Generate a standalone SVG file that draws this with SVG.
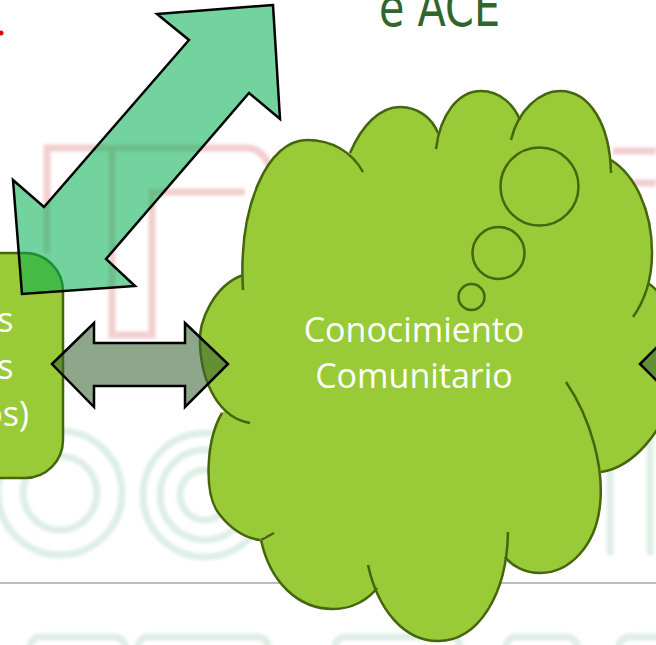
<svg xmlns="http://www.w3.org/2000/svg" width="656" height="645" viewBox="0 0 656 645">
  <defs>
    <filter id="soft" x="-10%" y="-10%" width="120%" height="120%">
      <feGaussianBlur stdDeviation="1.8"/>
    </filter>
    <style>
      .wm-red { fill: none; stroke: #f3cfcf; stroke-width: 7; }
      .wm-green { fill: none; stroke: #deefe6; stroke-width: 7; }
      .lobe-fill { fill: #99cb38; stroke: #99cb38; stroke-width: 1.5; stroke-linejoin: round; }
      .lobe { fill: none; stroke: #46650f; stroke-width: 2.5; stroke-linecap: butt; }
      .bubble { fill: #99cb38; stroke: #46650f; stroke-width: 2.5; }
      .node-box { fill: #99cb38; stroke: #46650f; stroke-width: 2.5; }
      .label { font-family: "Open Sans", "Noto Sans", sans-serif; font-size: 34px; fill: #ffffff; }
      .arrow-h { fill: rgb(60,102,52); fill-opacity: 0.58; stroke: #000; stroke-width: 2.5; stroke-linejoin: miter; }
      .arrow-d { fill: rgb(0,175,80); fill-opacity: 0.55; stroke: #000; stroke-width: 2.5; stroke-linejoin: miter; }
    </style>
  </defs>

  <rect x="0" y="0" width="656" height="645" fill="#ffffff"/>

  <!-- faint watermark -->
  <g id="watermark" filter="url(#soft)">
    <path class="wm-red" d="M47,253 V148 H248 Q268,150 272,178"/>
    <path class="wm-red" d="M112,150 V335 H152 V192 H245"/>
    <path class="wm-red" d="M613,151 H656 M620,183 H656"/>
    <circle class="wm-green" cx="60" cy="493" r="37"/>
    <circle class="wm-green" cx="60" cy="493" r="62"/>
    <circle class="wm-green" cx="205" cy="495" r="25"/>
    <circle class="wm-green" cx="205" cy="495" r="45"/>
    <circle class="wm-green" cx="205" cy="495" r="62"/>
    <path class="wm-green" d="M610,420 V555 M650,420 V555"/>
    <rect class="wm-green" x="30" y="637" width="95" height="30" rx="10"/>
    <rect class="wm-green" x="138" y="637" width="130" height="30" rx="10"/>
    <rect class="wm-green" x="335" y="637" width="125" height="30" rx="10"/>
    <rect class="wm-green" x="506" y="637" width="71" height="30" rx="10"/>
    <rect class="wm-green" x="619" y="637" width="60" height="30" rx="10"/>
  </g>

  <!-- slide separator line -->
  <line x1="0" y1="583" x2="656" y2="583" stroke="#a6a6a6" stroke-width="1.5"/>

  <!-- title fragment -->
  <g id="title">
    <text x="379" y="26" font-family="DejaVu Sans, sans-serif" font-size="54" fill="#32642d" textLength="121" lengthAdjust="spacingAndGlyphs">e ACE</text>
    <circle cx="1" cy="33" r="2.5" fill="#e00000"/>
  </g>

  <!-- left node (partially visible box) -->
  <g id="node-left">
    <rect class="node-box" x="-40" y="253" width="103" height="225" rx="38" ry="38"/>
    <text class="label" x="13.5" y="332" text-anchor="end">s</text>
    <text class="label" x="13.5" y="379" text-anchor="end">s</text>
    <text class="label" x="29" y="426" text-anchor="end">os)</text>
  </g>

  <!-- cloud node -->
  <g id="node-cloud">
    <g id="cloud-fill">
      <path class="lobe-fill" d="M250,285 L300,165 L420,140 L560,130 L615,200 L625,300 L600,440 L540,530 L500,540 L440,590 L370,560 L263,535 L232,420 L218,340 Z"/>
      <path class="lobe-fill" d="M243,290 C238,205 268,140 307,140 C332,140 352,152 363,172 L420,360 Z"/>
      <path class="lobe-fill" d="M350,153 C362,125 380,107 400,107 C418,107 432,118 438,133 L420,360 Z"/>
      <path class="lobe-fill" d="M436,149 C440,115 458,91 481,91 C500,91 514,105 520,120 L420,360 Z"/>
      <path class="lobe-fill" d="M511,140 C518,110 540,91 560,91 C590,91 610,125 611,173 L420,360 Z"/>
      <path class="lobe-fill" d="M611,160 C635,175 652,210 652,253 C652,280 645,300 633,317 L420,360 Z"/>
      <path class="lobe-fill" d="M648,283 C672,300 690,345 675,390 C663,430 635,467 601,472 L420,360 Z"/>
      <path class="lobe-fill" d="M566,382 C592,420 604,470 600,505 C596,545 570,573 540,573 C525,573 512,566 505,557 L420,360 Z"/>
      <path class="lobe-fill" d="M508,532 C507,595 478,641 438,641 C404,641 378,610 368,565 L420,360 Z"/>
      <path class="lobe-fill" d="M274,533 L261,540 C270,582 298,609 333,609 C352,609 368,600 377,588 L420,360 Z"/>
      <path class="lobe-fill" d="M222,413 C206,440 203,495 220,515 C232,530 245,538 260,540 L420,360 Z"/>
      <path class="lobe-fill" d="M243,275 C215,285 198,320 200,345 C202,385 220,418 250,423 L420,360 Z"/>
    </g>
    <g id="cloud-outline">
      <path class="lobe" d="M243,290 C238,205 268,140 307,140 C332,140 352,152 363,172"/>
      <path class="lobe" d="M350,153 C362,125 380,107 400,107 C418,107 432,118 438,133"/>
      <path class="lobe" d="M436,149 C440,115 458,91 481,91 C500,91 514,105 520,120"/>
      <path class="lobe" d="M511,140 C518,110 540,91 560,91 C590,91 610,125 611,173"/>
      <path class="lobe" d="M611,160 C635,175 652,210 652,253 C652,280 645,300 633,317"/>
      <path class="lobe" d="M648,283 C672,300 690,345 675,390 C663,430 635,467 601,472"/>
      <path class="lobe" d="M566,382 C592,420 604,470 600,505 C596,545 570,573 540,573 C525,573 512,566 505,557"/>
      <path class="lobe" d="M508,532 C507,595 478,641 438,641 C404,641 378,610 368,565"/>
      <path class="lobe" d="M274,533 L261,540 M261,540 C270,582 298,609 333,609 C352,609 368,600 377,588"/>
      <path class="lobe" d="M222,413 C206,440 203,495 220,515 C232,530 245,538 260,540"/>
      <path class="lobe" d="M243,275 C215,285 198,320 200,345 C202,385 220,418 250,423"/>
    </g>
    <circle class="bubble" cx="539.5" cy="186.5" r="39"/>
    <circle class="bubble" cx="498.5" cy="253" r="26"/>
    <circle class="bubble" cx="471.5" cy="297" r="13"/>
    <text class="label" x="414" y="342" text-anchor="middle">Conocimiento</text>
    <text class="label" x="414" y="388" text-anchor="middle">Comunitario</text>
  </g>

  <!-- connectors -->
  <g id="connectors">
    <polygon class="arrow-d" points="273,5 157,14 189,40 44,207 13,180 22,294 135,286 106,259 249,93 280,119"/>
    <polygon class="arrow-h" points="52,364 94,323 94,343 185,343 185,323 228,364 185,407 185,386 94,386 94,407"/>
    <polygon class="arrow-h" points="640,364 683,321 683,343 760,343 760,386 683,386 683,407"/>
  </g>
</svg>
